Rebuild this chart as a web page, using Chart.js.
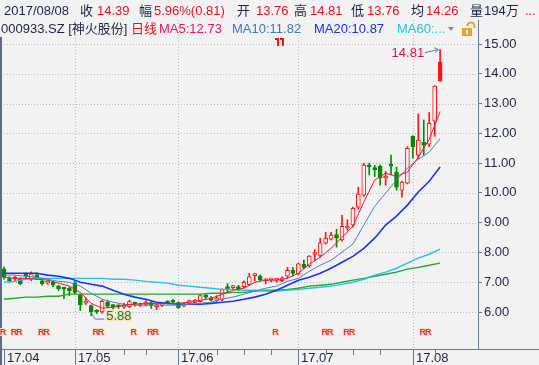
<!DOCTYPE html>
<html>
<head>
<meta charset="utf-8">
<script src="https://cdn.jsdelivr.net/npm/chart.js@4.4.1/dist/chart.umd.min.js"></script>
<style>
  html, body { margin: 0; padding: 0; background: #f2f2f2; }
  canvas { display: block; }
</style>
</head>
<body>
<canvas id="kline" width="539" height="365"></canvas>
<script>
// 日K线 000933.SZ 神火股份, 2017/04 - 2017/08/08
const openP  = [7.45, 7.12, 7.10, 7.10, 7.25, 7.10, 7.25, 7.05, 6.97, 7.00,
                6.88, 6.80, 6.80, 6.98, 6.56, 6.30, 6.22, 6.06, 6.00, 6.33,
                6.22, 6.20, 6.17, 6.18, 6.30, 6.22, 6.24, 6.32, 6.18, 6.22,
                6.35, 6.38, 6.32, 6.20, 6.30, 6.32, 6.35, 6.55, 6.48, 6.40,
                6.42, 6.85, 6.82, 6.85, 6.85, 6.92, 7.22, 7.20, 7.05, 7.08,
                7.07, 7.05, 7.20, 7.40, 7.28, 7.60, 7.55, 7.93, 7.90, 8.31,
                8.45, 8.60, 8.42, 8.82, 8.92, 9.52, 9.92, 10.92, 10.85, 10.90,
                10.50, 10.93, 10.70, 10.09, 10.33, 11.90, 11.27, 11.70, 11.64, 12.41,
                13.76];
const highP  = [7.52, 7.18, 7.20, 7.15, 7.32, 7.35, 7.32, 7.10, 7.05, 7.02,
                6.90, 6.83, 6.84, 7.02, 6.60, 6.48, 6.24, 6.08, 6.40, 6.40,
                6.25, 6.24, 6.30, 6.40, 6.33, 6.30, 6.38, 6.35, 6.25, 6.32,
                6.38, 6.42, 6.35, 6.30, 6.40, 6.42, 6.58, 6.62, 6.52, 6.55,
                6.78, 6.95, 6.90, 6.90, 7.05, 7.30, 7.30, 7.25, 7.12, 7.12,
                7.12, 7.18, 7.50, 7.50, 7.65, 7.75, 7.90, 8.10, 8.48, 8.68,
                8.68, 8.78, 9.25, 9.10, 9.52, 10.19, 11.00, 11.00, 10.93, 10.93,
                10.72, 11.27, 10.87, 10.40, 11.55, 11.92, 12.65, 12.45, 12.70, 13.60,
                14.81];
const lowP   = [7.10, 7.00, 7.05, 6.92, 7.12, 7.05, 7.08, 6.90, 6.93, 6.85,
                6.72, 6.45, 6.55, 6.60, 6.05, 6.25, 5.88, 5.95, 5.96, 6.15,
                6.10, 6.12, 6.12, 6.15, 6.20, 6.18, 6.20, 6.12, 6.08, 6.18,
                6.27, 6.30, 6.12, 6.17, 6.28, 6.30, 6.33, 6.45, 6.37, 6.35,
                6.38, 6.65, 6.78, 6.72, 6.80, 6.90, 7.05, 7.05, 6.95, 7.02,
                7.00, 7.02, 7.15, 7.20, 7.25, 7.45, 7.50, 7.72, 7.85, 8.28,
                8.42, 8.18, 8.38, 8.75, 8.85, 9.45, 9.88, 10.60, 10.55, 10.26,
                10.25, 10.60, 10.09, 9.86, 10.30, 11.17, 11.15, 11.27, 11.55, 11.90,
                13.76];
const closeP = [7.17, 7.05, 7.13, 6.95, 7.20, 7.28, 7.12, 6.95, 7.02, 6.90,
                6.78, 6.77, 6.72, 6.66, 6.25, 6.33, 6.00, 6.00, 6.36, 6.20,
                6.18, 6.17, 6.22, 6.35, 6.26, 6.26, 6.33, 6.22, 6.22, 6.30,
                6.30, 6.33, 6.15, 6.26, 6.38, 6.40, 6.55, 6.50, 6.40, 6.48,
                6.75, 6.74, 6.86, 6.76, 7.00, 7.18, 7.25, 7.08, 7.08, 7.10,
                7.09, 7.15, 7.40, 7.30, 7.62, 7.50, 7.88, 7.96, 8.32, 8.48,
                8.58, 8.48, 8.88, 8.85, 9.48, 9.96, 10.93, 10.87, 10.78, 10.50,
                10.56, 10.90, 10.19, 10.36, 11.50, 11.55, 11.77, 11.60, 12.34, 13.59,
                14.39];
const solidIdx = [80];

// 均线 (读图采样, 每两个交易日一点)
const maIdx = [0, 2, 4, 6, 8, 10, 12, 14, 16, 18, 20, 22, 24, 26, 28, 30, 32, 34, 36, 38,
               40, 42, 44, 46, 48, 50, 52, 54, 56, 58, 60, 62, 64, 66, 68, 70, 72, 74, 76, 78, 80];
const ma5  = [7.17, 7.13, 7.13, 7.10, 7.07, 6.97, 6.87, 6.66, 6.29, 6.13, 6.16, 6.23, 6.26, 6.29,
              6.29, 6.29, 6.29, 6.33, 6.39, 6.46, 6.59, 6.73, 6.80, 7.00, 7.07, 7.07, 7.13, 7.30,
              7.61, 7.84, 8.14, 8.51, 8.88, 9.69, 10.43, 10.66, 10.56, 10.70, 11.20, 11.80, 12.73];
const ma10 = [7.24, 7.24, 7.20, 7.17, 7.10, 7.03, 7.00, 6.87, 6.63, 6.43, 6.33, 6.26, 6.23, 6.23,
              6.23, 6.23, 6.23, 6.26, 6.29, 6.33, 6.43, 6.50, 6.60, 6.70, 6.80, 6.87, 7.03, 7.13,
              7.37, 7.57, 7.74, 8.01, 8.28, 8.92, 9.55, 9.99, 10.43, 10.83, 11.13, 11.37, 11.82];
const ma20 = [7.30, 7.30, 7.30, 7.30, 7.24, 7.20, 7.13, 7.00, 6.93, 6.87, 6.73, 6.60, 6.50, 6.43,
              6.33, 6.29, 6.26, 6.26, 6.26, 6.29, 6.33, 6.36, 6.43, 6.50, 6.60, 6.73, 6.90, 7.07,
              7.17, 7.30, 7.47, 7.67, 7.87, 8.14, 8.48, 8.92, 9.22, 9.59, 10.03, 10.39, 10.87];
const ma60 = [7.00, 7.03, 7.10, 7.13, 7.13, 7.13, 7.13, 7.13, 7.13, 7.13, 7.10, 7.10, 7.07, 7.03,
              7.00, 6.97, 6.90, 6.87, 6.83, 6.80, 6.76, 6.76, 6.73, 6.73, 6.70, 6.70, 6.73, 6.76,
              6.80, 6.83, 6.87, 6.93, 7.00, 7.10, 7.24, 7.34, 7.47, 7.64, 7.81, 7.94, 8.11];
const ma120 = [6.43, 6.46, 6.50, 6.50, 6.53, 6.53, 6.60, 6.60, 6.60, 6.60, 6.60, 6.60, 6.60, 6.60,
               6.60, 6.60, 6.60, 6.60, 6.60, 6.63, 6.63, 6.66, 6.66, 6.70, 6.73, 6.73, 6.76, 6.80,
               6.87, 6.90, 6.93, 7.00, 7.07, 7.13, 7.20, 7.27, 7.34, 7.44, 7.50, 7.57, 7.64];

const yTicks = [6, 7, 8, 9, 10, 11, 12, 13, 14, 15];
const monthIdx = [0, 13, 32, 54, 75];
const monthLabels = ['17.04', '17.05', '17.06', '17.07', '17.08'];
const weekIdx = [17, 22, 26, 34, 39, 44, 49, 59, 64, 69, 79];
const rIdx = [0, 2, 3, 7, 8, 17, 18, 24, 27, 28, 50, 59, 60, 63, 64, 77, 78];
const flagIdx = [50, 51];

const BG = '#f2f2f2';
const UP = '#ff1414';
const DOWN = '#008c00';
const AXIS = '#6b7a93';
const INK = '#1c2442';
const NUM = '#e2102c';
const FONT = '"Liberation Sans", "Noto Sans CJK SC", sans-serif';

const isUp = i => closeP[i] >= openP[i];
const candleColor = i => (isUp(i) ? UP : DOWN);

const wickData = openP.map((_, i) => ({ x: i, y: [lowP[i], highP[i]] }));
const bodyData = openP.map((_, i) => ({ x: i, y: [openP[i], closeP[i]] }));

const maLine = (vals, color, width) => ({
  type: 'line',
  data: vals.map((v, k) => ({ x: maIdx[k], y: v })),
  borderColor: color,
  borderWidth: width,
  pointRadius: 0,
  tension: 0,
  order: 0
});

const px = (chart, i) => chart.scales.x.getPixelForValue(i);
const py = (chart, v) => chart.scales.y.getPixelForValue(v);

const line = (c, x1, y1, x2, y2) => {
  c.beginPath(); c.moveTo(x1, y1); c.lineTo(x2, y2); c.stroke();
};

const text = (c, s, x, y, color, font, align) => {
  c.font = font || '13px ' + FONT;
  c.fillStyle = color;
  c.textAlign = align || 'left';
  c.textBaseline = 'middle';
  c.fillText(s, x, y);
};

const decor = {
  id: 'decor',
  beforeDraw(chart) {
    const c = chart.ctx;
    c.save();
    c.fillStyle = BG;
    c.fillRect(0, 0, chart.width, chart.height);
    c.restore();
  },
  beforeDatasetsDraw(chart) {
    const c = chart.ctx, a = chart.chartArea;
    c.save();
    c.strokeStyle = '#b9b9b9';
    c.lineWidth = 1;
    c.setLineDash([1, 2]);
    yTicks.forEach(v => {
      const y = Math.round(py(chart, v)) + 0.5;
      line(c, a.left, y, a.right, y);
    });
    monthIdx.slice(1).forEach(i => {
      const x = Math.round(px(chart, i)) + 0.5;
      line(c, x, a.top, x, a.bottom);
    });
    c.restore();
  },
  afterDraw(chart) {
    const c = chart.ctx, a = chart.chartArea;
    c.save();

    // 横轴
    c.strokeStyle = AXIS;
    c.lineWidth = 1;
    line(c, 0, a.bottom + 0.5, chart.width, a.bottom + 0.5);
    monthIdx.forEach((i, k) => {
      const x = Math.round(px(chart, i)) + 0.5;
      line(c, x, a.bottom, x, chart.height);
      text(c, monthLabels[k], x + 2.5, 358, INK);
    });
    weekIdx.forEach(i => {
      const x = Math.round(px(chart, i)) + 0.5;
      line(c, x, a.bottom, x, a.bottom + 6);
    });

    // 左边框
    c.fillStyle = '#5c6b88';
    c.fillRect(0, 37, 2, chart.height - 37);

    // R 标记: 先画底光, 再画字
    c.font = 'bold 9px ' + FONT;
    c.textAlign = 'center';
    c.textBaseline = 'middle';
    c.lineWidth = 2;
    c.strokeStyle = '#f5e6b4';
    rIdx.forEach(i => c.strokeText('R', px(chart, i) - 1, 333));
    c.fillStyle = '#e2325c';
    rIdx.forEach(i => c.fillText('R', px(chart, i) - 1, 333));

    // 事件标记
    c.strokeStyle = '#ff1010';
    c.lineWidth = 2;
    flagIdx.forEach(i => {
      const x = Math.round(px(chart, i));
      line(c, x - 2, 39, x + 2, 39);
      line(c, x + 1, 38, x + 1, 46);
    });

    // 最高价标注
    const hi = highP.indexOf(Math.max(...highP));
    const hx = px(chart, hi), hy = py(chart, highP[hi]);
    c.strokeStyle = '#4a80b8';
    c.lineWidth = 1;
    line(c, hx - 15, hy + 3, hx - 2, hy);
    line(c, hx - 2, hy, hx - 6, hy - 2);
    line(c, hx - 2, hy, hx - 5, hy + 3);
    text(c, highP[hi].toFixed(2), hx - 16, hy + 4, '#e2104a', '13px ' + FONT, 'right');

    // 最低价标注
    const lo = lowP.indexOf(Math.min(...lowP));
    const lx = px(chart, lo), ly = py(chart, lowP[lo]);
    c.strokeStyle = '#4a80b8';
    line(c, lx + 0.5, ly - 2, lx + 4, ly + 3.5);
    line(c, lx + 4, ly + 3.5, lx + 13, ly + 3.5);
    c.font = '13px ' + FONT;
    c.textAlign = 'left';
    c.textBaseline = 'middle';
    c.lineWidth = 2.5;
    c.strokeStyle = '#f2e4a8';
    c.strokeText(lowP[lo].toFixed(2), lx + 15, ly + 1);
    c.fillStyle = '#2c6e58';
    c.fillText(lowP[lo].toFixed(2), lx + 15, ly + 1);

    // 顶部信息栏
    const row1 = [
      [4, '2017/08/08', INK], [80, '收', INK], [97, '14.39', NUM], [139, '幅', INK],
      [154, '5.96%(0.81)', NUM], [237, '开', INK], [256, '13.76', NUM], [294, '高', INK],
      [310, '14.81', NUM], [351, '低', INK], [367, '13.76', NUM], [411, '均', INK],
      [426, '14.26', NUM], [470, '量', INK], [484, '194万', INK], [525, '...', NUM]
    ];
    row1.forEach(([x, s, col]) => text(c, s, x, 11, col));
    const row2 = [
      [1, '000933.SZ [神火股份]', INK], [131, '日线', '#e81010'],
      [159, 'MA5:12.73', '#e8185a'], [232, 'MA10:11.82', '#3c78c0'],
      [314, 'MA20:10.87', '#1a2ef0'], [397, 'MA60:...', '#22c4e4']
    ];
    row2.forEach(([x, s, col]) => text(c, s, x, 29, col));

    // 下拉箭头
    c.fillStyle = '#8a8a8a';
    c.beginPath(); c.moveTo(448, 27); c.lineTo(454, 27); c.lineTo(451, 31); c.closePath(); c.fill();

    // 锁
    c.fillStyle = '#f0a028';
    c.fillRect(462, 28, 10, 8);
    c.strokeStyle = '#f0a028';
    c.lineWidth = 2;
    c.beginPath(); c.arc(471, 26, 3.5, Math.PI, 0); c.stroke();
    line(c, 474.5, 26, 474.5, 28);
    c.fillStyle = '#ffffff';
    c.fillRect(466, 30, 2, 4);

    c.restore();
  }
};

new Chart(document.getElementById('kline').getContext('2d'), {
  type: 'bar',
  data: {
    datasets: [
      maLine(ma5, '#e8183c', 1),
      maLine(ma10, '#4a82b8', 1),
      maLine(ma20, '#1a34f0', 1.6),
      maLine(ma60, '#22c4e4', 1.4),
      maLine(ma120, '#20aa2a', 1.4),
      {
        data: bodyData,
        grouped: false,
        barThickness: 4,
        minBarLength: 2,
        borderWidth: 1,
        borderSkipped: false,
        borderColor: c => candleColor(c.dataIndex),
        backgroundColor: c => (isUp(c.dataIndex) && !solidIdx.includes(c.dataIndex) ? BG : candleColor(c.dataIndex)),
        order: 1
      },
      {
        data: wickData,
        grouped: false,
        barThickness: 1,
        borderWidth: 0,
        backgroundColor: c => candleColor(c.dataIndex),
        order: 2
      }
    ]
  },
  options: {
    responsive: false,
    animation: false,
    events: [],
    layout: { padding: { left: 1, right: 0, top: 20, bottom: 16 } },
    plugins: { legend: { display: false }, tooltip: { enabled: false } },
    scales: {
      x: { type: 'linear', min: -0.55, max: 86.95, offset: false, display: false },
      y: {
        position: 'right',
        min: 4.758,
        max: 15.806,
        afterBuildTicks: s => { s.ticks = yTicks.map(v => ({ value: v })); },
        afterFit: s => { s.width = 61; },
        ticks: {
          callback: v => Number(v).toFixed(2),
          color: INK,
          padding: 2,
          font: { family: 'Liberation Sans', size: 13 }
        },
        grid: { drawOnChartArea: false, drawTicks: true, tickLength: 4, tickColor: AXIS },
        border: { color: AXIS, width: 1 }
      }
    }
  },
  plugins: [decor]
});
</script>
</body>
</html>
